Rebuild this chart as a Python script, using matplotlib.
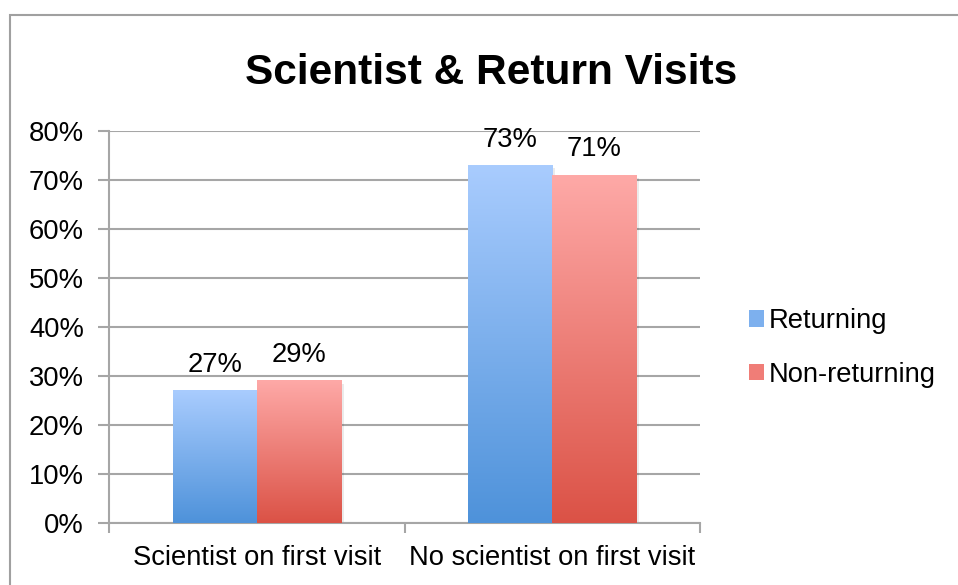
import numpy as np
import matplotlib
matplotlib.use("Agg")
import matplotlib.pyplot as plt
from matplotlib.colors import LinearSegmentedColormap
from matplotlib.patches import Rectangle, Patch
from matplotlib.ticker import FixedLocator

categories = ["Scientist on first visit", "No scientist on first visit"]
series_names = ["Returning", "Non-returning"]
returning = [27, 73]
non_returning = [29, 71]
y_ticks = [0, 10, 20, 30, 40, 50, 60, 70, 80]
title = "Scientist & Return Visits"

plt.rcParams['font.family'] = ['Liberation Sans', 'DejaVu Sans']

W, H = 958, 585
fig = plt.figure(figsize=(W / 100, H / 100), dpi=100)
ax = fig.add_axes([109 / W, 1 - 523 / H, (700 - 109) / W, (523 - 131) / H])

grid_c = "#A6A6A6"
cmaps = [
    LinearSegmentedColormap.from_list("ret", ["#4E92DA", "#A9CCFE"]),
    LinearSegmentedColormap.from_list("non", ["#DB5246", "#FEA9A7"]),
]
mid_cols = ["#7DB0EE", "#F07D77"]
fs = 19.7

w = 0.285
x = np.arange(len(categories))
grad = np.linspace(0, 1, 256).reshape(-1, 1)
for si, vals in enumerate([returning, non_returning]):
    offs = (si - 0.5) * w
    bars = ax.bar(x + offs, vals, w, color="none", edgecolor="none", zorder=3)
    for b, v in zip(bars, vals):
        x0 = b.get_x()
        x1 = x0 + b.get_width()
        # soft shadow
        ax.add_patch(Rectangle((x0 + 0.01, 0), b.get_width(), v - 0.6,
                               facecolor="#000000", alpha=0.08, edgecolor="none", zorder=2))
        ax.imshow(grad, extent=[x0, x1, 0, v], origin="lower", aspect="auto",
                  cmap=cmaps[si], zorder=3, interpolation="bilinear")
        ax.text(x0 + b.get_width() / 2, v + 2.6, f"{v}%", ha="center", va="bottom",
                fontsize=fs, color="black", zorder=5)

ax.set_xlim(-0.5, len(categories) - 0.5)
ax.set_ylim(0, 80)
ax.set_aspect("auto")

ax.set_yticks(y_ticks)
ax.set_yticklabels([f"{t}%" for t in y_ticks])
ax.yaxis.grid(True, color=grid_c, linewidth=1.5, zorder=0)
ax.set_axisbelow(True)

ax.set_xticks(x)
ax.set_xticklabels(categories)
ax.xaxis.set_minor_locator(FixedLocator(np.arange(-0.5, len(categories), 1.0)))
ax.tick_params(axis="x", which="major", length=0, pad=16, labelsize=fs)
ax.tick_params(axis="x", which="minor", length=7, width=1.5, color=grid_c)
ax.tick_params(axis="y", length=8, width=1.5, color=grid_c, pad=10, labelsize=fs)

for s in ["top", "right"]:
    ax.spines[s].set_visible(False)
for s in ["left", "bottom"]:
    ax.spines[s].set_color(grid_c)
    ax.spines[s].set_linewidth(1.5)

fig.text(491 / W, 1 - 73 / H, title, ha="center", va="center",
         fontsize=30.5, fontweight="bold")

handles = [Patch(facecolor=mid_cols[i], edgecolor="none", label=series_names[i]) for i in range(2)]
fig.legend(handles=handles, loc="center left", bbox_to_anchor=(735 / W, 1 - 348 / H),
           frameon=False, fontsize=fs, handlelength=0.55, handleheight=0.55,
           handletextpad=0.2, labelspacing=1.0, borderpad=0)

fig.add_artist(Rectangle((10 / W, -0.02), 1.1, (H - 15) / H + 0.02, transform=fig.transFigure,
                         facecolor="none", edgecolor="#A0A0A0", linewidth=1.5))

fig.savefig("out.png", dpi=100)
